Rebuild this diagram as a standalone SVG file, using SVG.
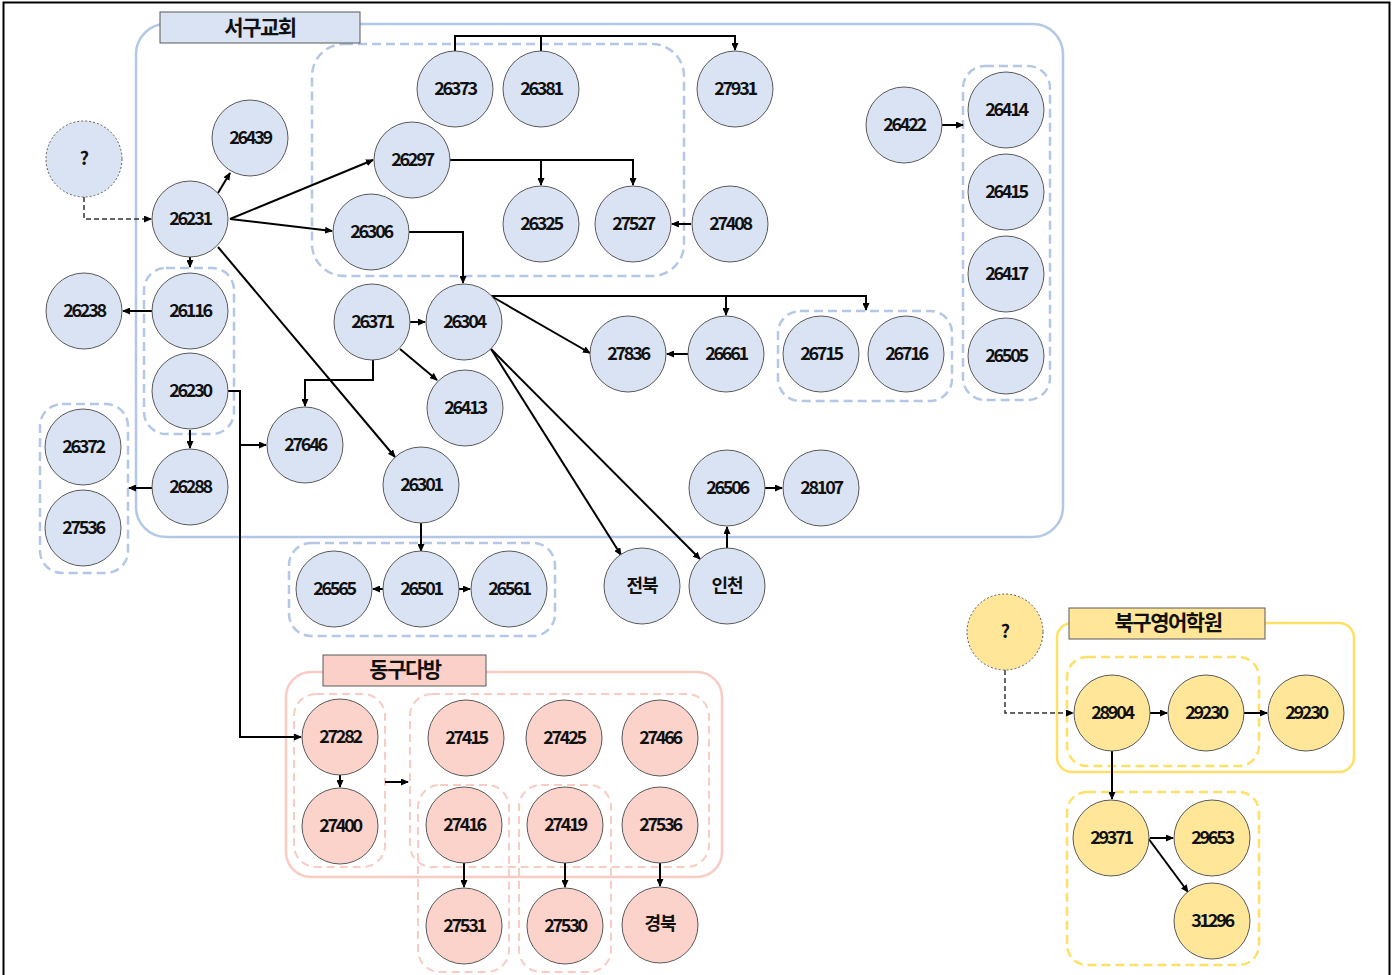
<svg xmlns="http://www.w3.org/2000/svg" width="1395" height="975" viewBox="0 0 1395 975">
<style>
text{font-family:"Noto Sans CJK KR","Noto Sans",sans-serif;font-weight:bold;fill:#111;text-anchor:middle}
.lbl{font-size:18px;letter-spacing:-2.3px}
.kl{font-size:18px;letter-spacing:-1px}
.ttl{font-size:21px;letter-spacing:-1.5px}
.b circle{fill:#dae3f3;stroke:#595959;stroke-width:1}
.p circle{fill:#fbd3cb;stroke:#595959;stroke-width:1}
.y circle{fill:#ffe699;stroke:#595959;stroke-width:1}
circle.q{stroke-dasharray:2 2}
.gb{fill:none;stroke:#b4c7e7;stroke-width:2.5}
.db{fill:none;stroke:#b4c7e7;stroke-width:2.5;stroke-dasharray:9 5}
.gp{fill:none;stroke:#f8cbc3;stroke-width:2.5}
.dp{fill:none;stroke:#f8cbc3;stroke-width:2;stroke-dasharray:8 5}
.gy{fill:none;stroke:#ffe066;stroke-width:2.5}
.dy{fill:none;stroke:#ffe066;stroke-width:2.5;stroke-dasharray:9 5}
.tb{stroke:#595959;stroke-width:1}
#edges path{fill:none;stroke:#000;stroke-width:2}
#edges path.a{marker-end:url(#ah)}
#edges path.d{stroke:#333;stroke-width:1.5;stroke-dasharray:5 3}
</style>
<defs>
<marker id="ah" markerUnits="userSpaceOnUse" markerWidth="8" markerHeight="7" refX="7" refY="3.5" orient="auto"><path d="M0,0 L8,3.5 L0,7 z" fill="#000"/></marker>
</defs>
<rect width="1395" height="975" fill="#fff"/>
<rect x="3.5" y="2.5" width="1386" height="1010" fill="none" stroke="#000" stroke-width="2"/>

<g id="groups">
<rect class="gb" x="136" y="24" width="927" height="513" rx="30"/>
<rect class="db" x="312" y="44" width="372" height="232" rx="32"/>
<rect class="db" x="144" y="268" width="90" height="166" rx="22"/>
<rect class="db" x="40" y="404" width="88" height="169" rx="22"/>
<rect class="db" x="778" y="311" width="174" height="90" rx="22"/>
<rect class="db" x="963" y="66" width="87" height="334" rx="22"/>
<rect class="db" x="289" y="543" width="266" height="93" rx="22"/>
<rect class="gp" x="286" y="672" width="436" height="205" rx="25"/>
<rect class="dp" x="294" y="694" width="91" height="173" rx="22"/>
<rect class="dp" x="410" y="694" width="299" height="173" rx="22"/>
<rect class="dp" x="418" y="785" width="91" height="187" rx="22"/>
<rect class="dp" x="519" y="785" width="92" height="187" rx="22"/>
<rect class="gy" x="1057" y="623" width="297" height="149" rx="15"/>
<rect class="dy" x="1067" y="657" width="192" height="109" rx="20"/>
<rect class="dy" x="1067" y="792" width="192" height="173" rx="20"/>
</g>

<g id="title-seogu"><rect class="tb" x="160" y="12" width="200" height="31" fill="#dae3f3"/><text class="ttl" x="260" y="35">서구교회</text></g>
<g id="title-donggu"><rect class="tb" x="323" y="655" width="163" height="31" fill="#fad0c9"/><text class="ttl" x="405" y="677">동구다방</text></g>
<g id="title-bukgu"><rect class="tb" x="1069" y="608" width="196" height="31" fill="#ffe699"/><text class="ttl" x="1168" y="630">북구영어학원</text></g>

<g id="edges">
<path class="a d" d="M84,197 V219 H151"/>
<path class="a" d="M218,193 L230,173"/>
<path class="a" d="M230,219 L373,160"/>
<path class="a" d="M230,219 L332,231"/>
<path class="a" d="M190,257 V267"/>
<path class="a" d="M218,247 L395,457"/>
<path class="a" d="M152,311 H123"/>
<path class="a" d="M190,430 V448"/>
<path class="a" d="M152,488 H129"/>
<path class="a" d="M228,391 H240 V737 H301"/>
<path class="a" d="M240,445 H266"/>
<path class="a" d="M455,51 V36 H735 V50"/>
<path d="M541,51 V36"/>
<path class="a" d="M450,160 H633 V185"/>
<path class="a" d="M541,160 V185"/>
<path class="a" d="M691,224 H672"/>
<path class="a" d="M409,232 H463 V283"/>
<path class="a" d="M410,322 H425"/>
<path class="a" d="M373,360 V380 H305 V406"/>
<path class="a" d="M400,349 L437,380"/>
<path class="a" d="M491,296 H866 V310"/>
<path class="a" d="M726,296 V315"/>
<path class="a" d="M491,296 L590,353"/>
<path class="a" d="M688,354 H667"/>
<path class="a" d="M491,349 L621,555"/>
<path class="a" d="M491,349 L700,559"/>
<path class="a" d="M727,548 V527"/>
<path class="a" d="M765,488 H782"/>
<path class="a" d="M421,523 V551"/>
<path class="a" d="M383,589 H373"/>
<path class="a" d="M459,589 H470"/>
<path class="a" d="M942,125 H963"/>
<path class="a" d="M340,775 V787"/>
<path class="a" d="M385,782 H408"/>
<path class="a" d="M464,863 V887"/>
<path class="a" d="M565,863 V887"/>
<path class="a" d="M660,863 V886"/>
<path class="a d" d="M1005,670 V713 H1073"/>
<path class="a" d="M1150,713 H1167"/>
<path class="a" d="M1244,713 H1267"/>
<path class="a" d="M1112,751 V799"/>
<path class="a" d="M1150,838 H1173"/>
<path class="a" d="M1148,838 L1188,892"/>
</g>

<g class="b">
<g id="q-blue"><circle class="q" cx="84" cy="159" r="38"/><text class="kl" x="84" y="165">?</text></g>
<g id="n26439"><circle cx="250" cy="138" r="38"/><text class="lbl" x="250" y="144">26439</text></g>
<g id="n26231"><circle cx="190" cy="219" r="38"/><text class="lbl" x="190" y="225">26231</text></g>
<g id="n26238"><circle cx="84" cy="311" r="38"/><text class="lbl" x="84" y="317">26238</text></g>
<g id="n26116"><circle cx="190" cy="311" r="38"/><text class="lbl" x="190" y="317">26116</text></g>
<g id="n26230"><circle cx="190" cy="391" r="38"/><text class="lbl" x="190" y="397">26230</text></g>
<g id="n26372"><circle cx="83" cy="447" r="38"/><text class="lbl" x="83" y="453">26372</text></g>
<g id="n27536a"><circle cx="83" cy="528" r="38"/><text class="lbl" x="83" y="534">27536</text></g>
<g id="n26288"><circle cx="190" cy="487" r="38"/><text class="lbl" x="190" y="493">26288</text></g>
<g id="n26373"><circle cx="455" cy="89" r="38"/><text class="lbl" x="455" y="95">26373</text></g>
<g id="n26381"><circle cx="541" cy="89" r="38"/><text class="lbl" x="541" y="95">26381</text></g>
<g id="n27931"><circle cx="735" cy="89" r="38"/><text class="lbl" x="735" y="95">27931</text></g>
<g id="n26297"><circle cx="412" cy="160" r="38"/><text class="lbl" x="412" y="166">26297</text></g>
<g id="n26306"><circle cx="371" cy="232" r="38"/><text class="lbl" x="371" y="238">26306</text></g>
<g id="n26325"><circle cx="541" cy="224" r="38"/><text class="lbl" x="541" y="230">26325</text></g>
<g id="n27527"><circle cx="633" cy="224" r="38"/><text class="lbl" x="633" y="230">27527</text></g>
<g id="n27408"><circle cx="730" cy="224" r="38"/><text class="lbl" x="730" y="230">27408</text></g>
<g id="n26422"><circle cx="904" cy="125" r="38"/><text class="lbl" x="904" y="131">26422</text></g>
<g id="n26414"><circle cx="1006" cy="110" r="38"/><text class="lbl" x="1006" y="116">26414</text></g>
<g id="n26415"><circle cx="1006" cy="192" r="38"/><text class="lbl" x="1006" y="198">26415</text></g>
<g id="n26417"><circle cx="1006" cy="274" r="38"/><text class="lbl" x="1006" y="280">26417</text></g>
<g id="n26505"><circle cx="1006" cy="356" r="38"/><text class="lbl" x="1006" y="362">26505</text></g>
<g id="n26371"><circle cx="372" cy="322" r="38"/><text class="lbl" x="372" y="328">26371</text></g>
<g id="n26304"><circle cx="464" cy="322" r="38"/><text class="lbl" x="464" y="328">26304</text></g>
<g id="n26413"><circle cx="465" cy="408" r="38"/><text class="lbl" x="465" y="414">26413</text></g>
<g id="n27646"><circle cx="305" cy="445" r="38"/><text class="lbl" x="305" y="451">27646</text></g>
<g id="n26301"><circle cx="421" cy="485" r="38"/><text class="lbl" x="421" y="491">26301</text></g>
<g id="n27836"><circle cx="628" cy="354" r="38"/><text class="lbl" x="628" y="360">27836</text></g>
<g id="n26661"><circle cx="726" cy="354" r="38"/><text class="lbl" x="726" y="360">26661</text></g>
<g id="n26715"><circle cx="821" cy="354" r="38"/><text class="lbl" x="821" y="360">26715</text></g>
<g id="n26716"><circle cx="906" cy="354" r="38"/><text class="lbl" x="906" y="360">26716</text></g>
<g id="n26506"><circle cx="727" cy="488" r="38"/><text class="lbl" x="727" y="494">26506</text></g>
<g id="n28107"><circle cx="821" cy="488" r="38"/><text class="lbl" x="821" y="494">28107</text></g>
<g id="n-jeonbuk"><circle cx="642" cy="586" r="38"/><text class="kl" x="642" y="592">전북</text></g>
<g id="n-incheon"><circle cx="727" cy="586" r="38"/><text class="kl" x="727" y="592">인천</text></g>
<g id="n26565"><circle cx="334" cy="589" r="38"/><text class="lbl" x="334" y="595">26565</text></g>
<g id="n26501"><circle cx="421" cy="589" r="38"/><text class="lbl" x="421" y="595">26501</text></g>
<g id="n26561"><circle cx="509" cy="589" r="38"/><text class="lbl" x="509" y="595">26561</text></g>
</g>

<g class="p">
<g id="n27282"><circle cx="340" cy="737" r="38"/><text class="lbl" x="340" y="743">27282</text></g>
<g id="n27400"><circle cx="340" cy="826" r="38"/><text class="lbl" x="340" y="832">27400</text></g>
<g id="n27415"><circle cx="466" cy="738" r="38"/><text class="lbl" x="466" y="744">27415</text></g>
<g id="n27425"><circle cx="564" cy="738" r="38"/><text class="lbl" x="564" y="744">27425</text></g>
<g id="n27466"><circle cx="660" cy="738" r="38"/><text class="lbl" x="660" y="744">27466</text></g>
<g id="n27416"><circle cx="464" cy="825" r="38"/><text class="lbl" x="464" y="831">27416</text></g>
<g id="n27419"><circle cx="565" cy="825" r="38"/><text class="lbl" x="565" y="831">27419</text></g>
<g id="n27536b"><circle cx="660" cy="825" r="38"/><text class="lbl" x="660" y="831">27536</text></g>
<g id="n27531"><circle cx="464" cy="926" r="38"/><text class="lbl" x="464" y="932">27531</text></g>
<g id="n27530"><circle cx="565" cy="926" r="38"/><text class="lbl" x="565" y="932">27530</text></g>
<g id="n-gyeongbuk"><circle cx="660" cy="925" r="38"/><text class="kl" x="660" y="930">경북</text></g>
</g>

<g class="y">
<g id="q-yellow"><circle class="q" cx="1005" cy="632" r="38"/><text class="kl" x="1005" y="638">?</text></g>
<g id="n28904"><circle cx="1112" cy="713" r="38"/><text class="lbl" x="1112" y="719">28904</text></g>
<g id="n29230a"><circle cx="1206" cy="713" r="38"/><text class="lbl" x="1206" y="719">29230</text></g>
<g id="n29230b"><circle cx="1306" cy="713" r="38"/><text class="lbl" x="1306" y="719">29230</text></g>
<g id="n29371"><circle cx="1111" cy="838" r="38"/><text class="lbl" x="1111" y="844">29371</text></g>
<g id="n29653"><circle cx="1212" cy="838" r="38"/><text class="lbl" x="1212" y="844">29653</text></g>
<g id="n31296"><circle cx="1212" cy="921" r="38"/><text class="lbl" x="1212" y="927">31296</text></g>
</g>
</svg>
